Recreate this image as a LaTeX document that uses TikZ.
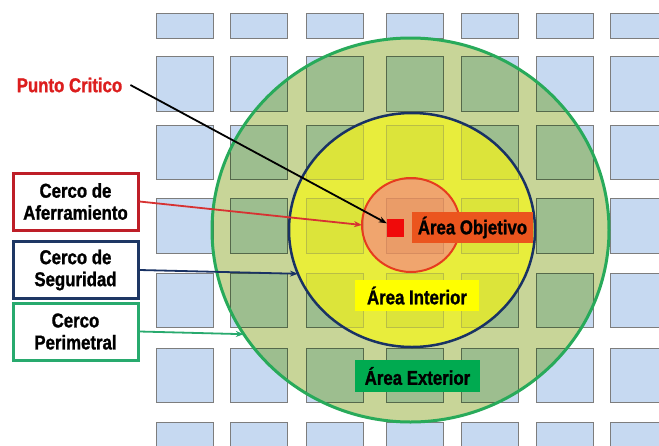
\documentclass[tikz,border=0pt]{standalone}
\usepackage{fontspec}
\newfontfamily\lbl{Liberation Sans}[FakeStretch=0.84, BoldFeatures={FakeBold=1.2}]
\usetikzlibrary{shapes.geometric,arrows.meta}
\definecolor{tileblue}{RGB}{198,217,241}
\definecolor{tileedge}{RGB}{125,125,125}
\definecolor{olivebg}{RGB}{200,213,152}
\definecolor{tilegreen}{RGB}{157,190,143}
\definecolor{tilegreenedge}{RGB}{85,105,75}
\definecolor{yellowbg}{RGB}{232,237,60}
\definecolor{tileyellow}{RGB}{220,228,58}
\definecolor{tileyellowedge}{RGB}{185,190,70}
\definecolor{salmonbg}{RGB}{240,165,110}
\definecolor{tilesalmon}{RGB}{234,156,104}
\definecolor{tilesalmonedge}{RGB}{215,140,95}
\definecolor{greenline}{RGB}{40,170,90}
\definecolor{blueline}{RGB}{25,50,100}
\definecolor{redline}{RGB}{230,60,30}
\definecolor{objbox}{RGB}{235,85,30}
\definecolor{intbox}{RGB}{255,255,0}
\definecolor{extbox}{RGB}{0,170,80}
\definecolor{puntored}{RGB}{220,30,30}
\definecolor{critred}{RGB}{240,10,10}
\definecolor{aferbox}{RGB}{190,30,40}
\definecolor{segbox}{RGB}{30,55,100}
\definecolor{perbox}{RGB}{40,170,110}
\definecolor{aferline}{RGB}{215,50,50}
\newcommand\drawtiles[2]{%
  \foreach \tx in {156,230,306,386,461,536,610}{%
    \foreach \ty/\th in {13/25,56/55,125/54,198/55,273/54,348/54,422/55}{%
      \filldraw[fill=#1,draw=#2,line width=0.8pt] (\tx,\ty) rectangle ++(57,\th);
    }}}
\begin{document}
\begin{tikzpicture}[x=1pt,y=-1pt,
  lbltext/.style={font=\lbl\bfseries\fontsize{20}{22}\selectfont, text=black, inner sep=0pt},
  areabox/.style={lbltext, minimum height=31pt},
  cercobox/.style={lbltext, fill=white, line width=3pt, minimum width=125pt, minimum height=57pt, align=center},
  ring/.style={ellipse, inner sep=0pt, outer sep=0pt},
  conn/.style={line width=1.8pt, -{Stealth[length=8pt,width=6pt]}}]
\useasboundingbox (0,0) rectangle (659,445);
\fill[white] (0,0) rectangle (659,445);
% tiles outside
\drawtiles{tileblue}{tileedge}
% perimeter area
\begin{scope}
  \clip (410.5,230) ellipse [x radius=198.5, y radius=192];
  \fill[olivebg] (0,0) rectangle (659,445);
  \drawtiles{tilegreen}{tilegreenedge}
\end{scope}
% security area
\begin{scope}
  \clip (412,230) ellipse [x radius=123, y radius=117];
  \fill[yellowbg] (0,0) rectangle (659,445);
  \drawtiles{tileyellow}{tileyellowedge}
\end{scope}
% objective area
\begin{scope}
  \clip (411,225) ellipse [x radius=49, y radius=47];
  \fill[salmonbg] (0,0) rectangle (659,445);
  \drawtiles{tilesalmon}{tilesalmonedge}
\end{scope}
% ring outlines
\node[ring, draw=greenline, line width=3pt, minimum width=397pt, minimum height=384pt] (perim) at (410.5,230) {};
\node[ring, draw=blueline, line width=2.5pt, minimum width=246pt, minimum height=234pt] (seg) at (412,230) {};
\node[ring, draw=redline, line width=2pt, minimum width=98pt, minimum height=94pt] (afer) at (411,225) {};
% area labels
\node[areabox, fill=objbox, minimum width=121pt] (obj) at (472.5,227.5) {Área Objetivo};
\node[fill=critred, minimum width=17pt, minimum height=18pt, inner sep=0pt] (pc) at (395.5,228) {};
\node[areabox, fill=intbox, minimum width=124pt] (int) at (417,295.5) {Área Interior};
\node[areabox, fill=extbox, minimum width=125pt, minimum height=32pt] (ext) at (417.5,376) {Área Exterior};
% left labels
\node[cercobox, draw=aferbox] (bafer) at (75.5,201.5) {Cerco de\\Aferramiento};
\node[cercobox, draw=segbox] (bseg) at (75.5,270) {Cerco de\\Seguridad};
\node[cercobox, draw=perbox] (bper) at (75.5,331.5) {Cerco\\Perimetral};
\node[lbltext, text=puntored] (punto) at (69.5,85) {Punto Critico};
% connectors
\draw[conn, black] ([xshift=8pt]punto.east) -- (pc);
\draw[conn, aferline] (bafer.east) -- (afer.180);
\draw[conn, blueline] (bseg.east) -- (seg.201);
\draw[conn, perbox] (bper.east) -- (perim.212);
\end{tikzpicture}
\end{document}
